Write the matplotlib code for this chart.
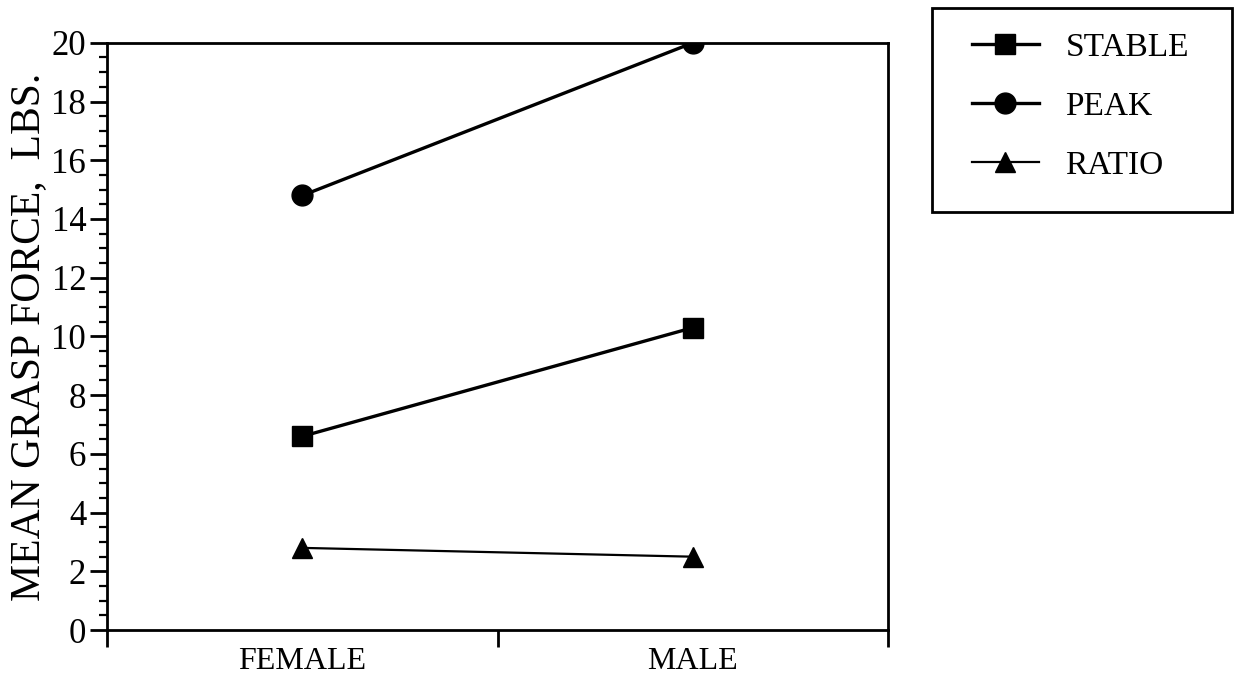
import numpy as np
import matplotlib.pyplot as plt
from matplotlib.patches import Rectangle
from matplotlib.ticker import MultipleLocator, FixedLocator, FixedFormatter

plt.rcParams['font.family'] = ['Liberation Serif', 'DejaVu Serif']

groups = ['FEMALE', 'MALE']
stable = [6.6, 10.3]
peak = [14.8, 20.0]
ratio = [2.8, 2.5]

x = np.array([0.5, 1.5])

fig = plt.figure(figsize=(12.42, 6.79), dpi=100)
ax = fig.add_axes([0.0862, 0.072, 0.629, 0.865])

ax.plot(x, stable, color='black', lw=2.4, marker='s', ms=15, label='STABLE')
ax.plot(x, peak, color='black', lw=2.4, marker='o', ms=15, label='PEAK')
ax.plot(x, ratio, color='black', lw=1.6, marker='^', ms=14, label='RATIO')

ax.set_xlim(0, 2)
ax.set_ylim(0, 20)
ax.yaxis.set_major_locator(MultipleLocator(2))
ax.yaxis.set_minor_locator(MultipleLocator(0.5))
ax.xaxis.set_major_locator(FixedLocator([0, 1, 2]))
ax.xaxis.set_major_formatter(FixedFormatter(['', '', '']))
ax.xaxis.set_minor_locator(FixedLocator(list(x)))
ax.xaxis.set_minor_formatter(FixedFormatter(groups))

ax.tick_params(axis='y', which='major', direction='out', length=12, width=2, labelsize=25, pad=3)
ax.tick_params(axis='y', which='minor', direction='out', length=6, width=1.6)
ax.tick_params(axis='x', which='major', direction='out', length=12, width=2)
ax.tick_params(axis='x', which='minor', length=0, labelsize=23, pad=12)

for s in ax.spines.values():
    s.set_linewidth(2)

ax.set_ylabel('MEAN GRASP FORCE,  LBS.', fontsize=30, labelpad=2)

# legend box drawn separately so the padding can match the original
fig.patches.append(Rectangle((0.7504, 0.6878), 0.2415, 0.3004, transform=fig.transFigure,
                             fill=False, edgecolor='black', lw=2))
leg = fig.legend(loc='upper left', bbox_to_anchor=(0.7826, 0.952), fontsize=24,
                 handlelength=2.0, borderpad=0, labelspacing=0.85,
                 handletextpad=0.8, borderaxespad=0, frameon=False)

fig.savefig('out.png', dpi=100)
